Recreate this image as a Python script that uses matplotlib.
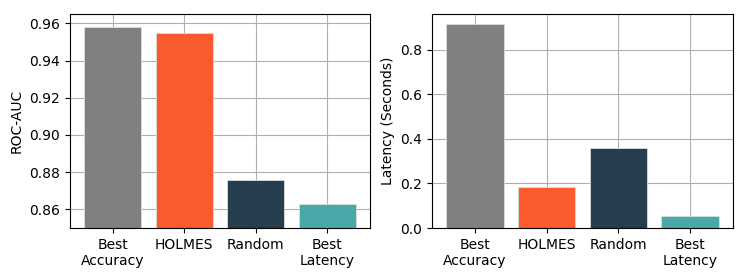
import matplotlib
matplotlib.use("Agg")
import matplotlib.pyplot as plt

# data
methods = ["Best\nAccuracy", "HOLMES", "Random", "Best\nLatency"]
roc_auc = [0.958, 0.955, 0.8757, 0.8627]
latency = [0.915, 0.186, 0.360, 0.055]
colors = ["#808080", "#F95A2E", "#263D4D", "#4AA9A8"]

fig = plt.figure(figsize=(7.47, 2.8), dpi=100)
ax1 = fig.add_axes([0.0937, 0.1857, 0.4016, 0.7643])
ax2 = fig.add_axes([0.5783, 0.1857, 0.4030, 0.7643])

x = range(len(methods))

# ROC-AUC
ax1.bar(x, roc_auc, color=colors, width=0.8, edgecolor="#dddddd", linewidth=0.6)
ax1.set_ylim(0.85, 0.965)
ax1.set_yticks([0.86, 0.88, 0.90, 0.92, 0.94, 0.96])
ax1.set_ylabel("ROC-AUC")

# latency
ax2.bar(x, latency, color=colors, width=0.8, edgecolor="#dddddd", linewidth=0.6)
ax2.set_ylim(0, 0.96)
ax2.set_yticks([0.0, 0.2, 0.4, 0.6, 0.8])
ax2.set_ylabel("Latency (Seconds)")

for ax in (ax1, ax2):
    ax.set_xticks(list(x))
    ax.set_xticklabels(methods)
    ax.set_xlim(-0.6, 3.6)
    ax.set_axisbelow(True)
    ax.grid(True, color="#b0b0b0", linewidth=0.8)

plt.savefig("out.png", dpi=100)
